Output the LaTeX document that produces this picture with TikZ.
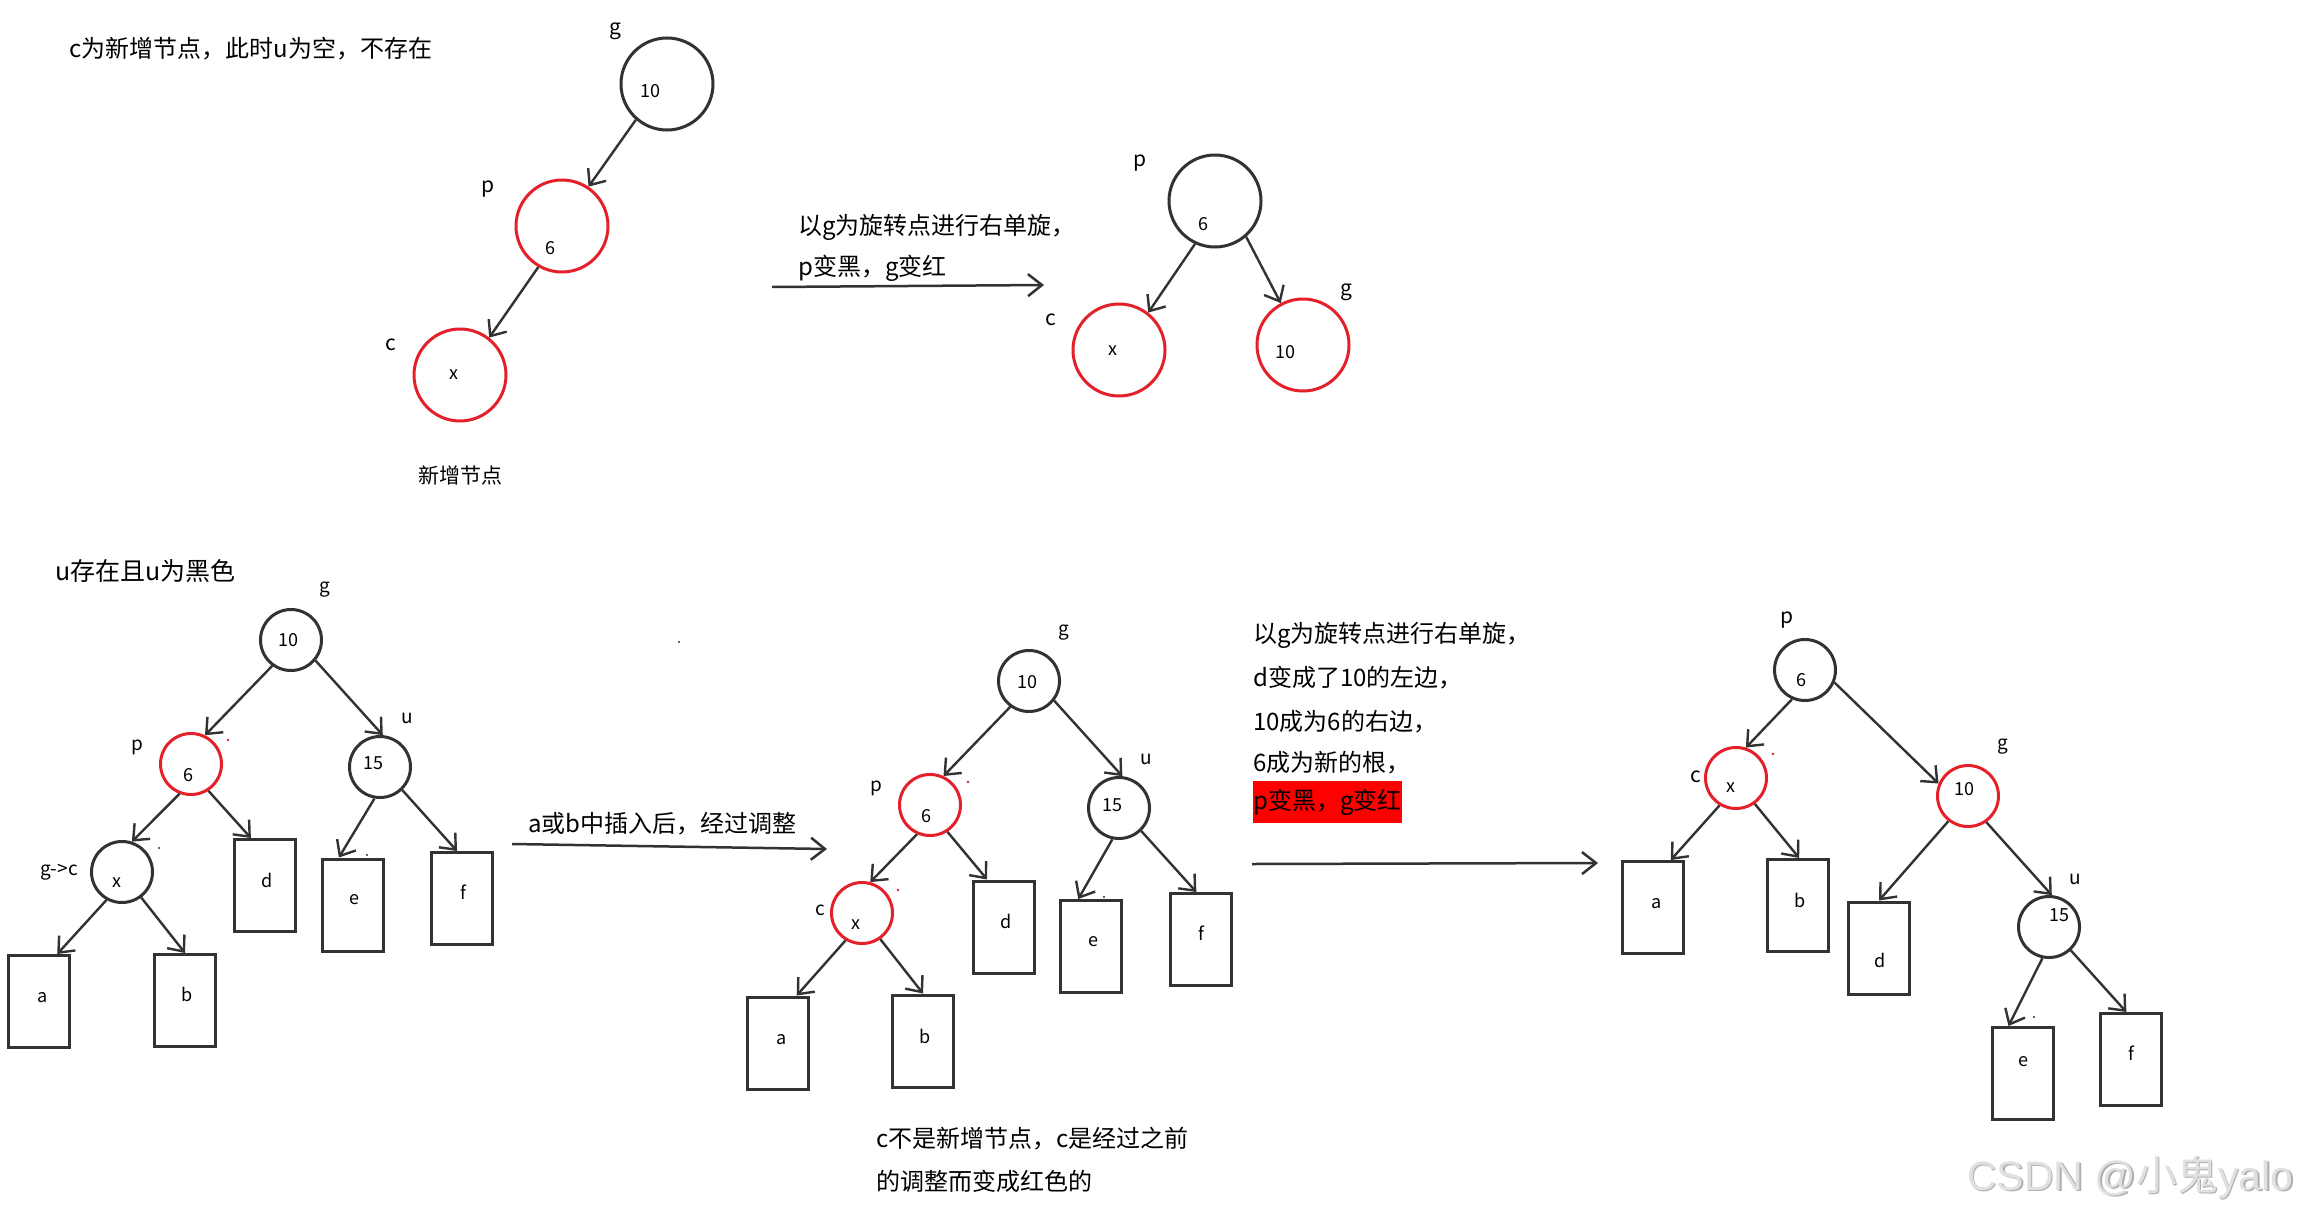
\documentclass[tikz,border=0pt]{standalone}
\usepackage{fontspec}
\setmainfont{Noto Sans CJK SC}
\newfontfamily\wmfont{Liberation Sans}
\usetikzlibrary{arrows.meta}
\definecolor{lc}{RGB}{50,50,50}
\definecolor{rc}{RGB}{228,32,42}
\definecolor{hl}{RGB}{255,0,0}
\definecolor{wm}{RGB}{224,224,224}
\definecolor{wms}{RGB}{175,175,175}
\tikzset{
  bigc/.style={circle,draw=lc,line width=3pt,minimum size=92pt,inner sep=0pt},
  smc/.style={circle,draw=lc,line width=3pt,minimum size=61pt,inner sep=0pt},
  redc/.style={draw=rc},
  leaf/.style={rectangle,draw=lc,line width=3pt,minimum width=61pt,minimum height=92pt,inner sep=0pt},
  arr/.style={draw=lc,line width=2.4pt,-{Straight Barb[length=13pt,width=22pt]}},
  harr/.style={draw=lc,line width=2.5pt,-{Straight Barb[length=14pt,width=22pt]}},
  txt/.style={inner sep=0pt,anchor=west,font=\fontsize{24}{24}\selectfont},
  inn/.style={inner sep=0pt,font=\fontsize{18}{18}\selectfont},
  tlab/.style={inner sep=0pt,font=\fontsize{21}{21}\selectfont},
  blab/.style={inner sep=0pt,font=\fontsize{19}{19}\selectfont},
}
\begin{document}
\begin{tikzpicture}[x=1pt,y=-1pt]
\useasboundingbox[fill=white] (0,0) rectangle (2306,1215);

% ---------------- top left: c is new node ----------------
\node[txt] (title1) at (69,49) {c为新增节点，此时u为空，不存在};
\node[bigc] (g1) at (667,84) {};
\node[bigc,redc] (p1) at (562,226) {};
\node[bigc,redc] (c1) at (460,375) {};
\node[tlab] (g1l) at (615,31) {g};
\node[tlab] (p1l) at (488,189) {p};
\node[tlab] (c1l) at (391,345) {c};
\node[inn] (g1n) at (650,91) {10};
\node[inn] (p1n) at (550,248) {6};
\node[inn] (c1n) at (454,375) {x};
\node[inn,font=\fontsize{21}{21}\selectfont] (new1) at (460,475) {新增节点};
\draw[arr] (g1.-131.8) -- (p1.56.6);
\draw[arr] (p1.-120.6) -- (c1.52.9);

% ---------------- top middle arrow ----------------
\node[txt] (rot1a) at (798,227) {以g为旋转点进行右单旋，};
\node[txt] (rot1b) at (798,268) {p变黑，g变红};
\coordinate (m1s) at (772,287);
\coordinate (m1e) at (1044,285);
\draw[harr] (m1s) -- (m1e);

% ---------------- top right tree ----------------
\node[bigc] (p2) at (1215,201) {};
\node[bigc,redc] (c2) at (1119,350) {};
\node[bigc,redc] (g2) at (1303,345) {};
\node[tlab] (p2l) at (1140,163) {p};
\node[tlab] (c2l) at (1051,320) {c};
\node[tlab] (g2l) at (1346,292) {g};
\node[inn] (p2n) at (1203,224) {6};
\node[inn] (c2n) at (1113,351) {x};
\node[inn] (g2n) at (1285,352) {10};
\draw[arr] (p2.-115.1) -- (c2.52.7);
\draw[arr] (p2.-49.1) -- (g2.118.1);

% ---------------- bottom left tree ----------------
\node[txt,font=\fontsize{25}{25}\selectfont] (title2) at (55,571) {u存在且u为黑色};
\node[smc] (g3) at (291,640) {};
\node[smc,redc] (p3) at (191,764) {};
\node[smc] (u3) at (380,767) {};
\node[smc] (x3) at (122,872) {};
\node[leaf] (a3) at (39,1001.5) {};
\node[leaf] (b3) at (185,1000.5) {};
\node[leaf] (d3) at (264.5,885.5) {};
\node[leaf] (e3) at (352.5,905) {};
\node[leaf] (f3) at (462,898.5) {};
\node[blab] (g3l) at (325,590) {g};
\node[blab] (p3l) at (137,747) {p};
\node[blab] (u3l) at (407,718) {u};
\node[blab] (x3l) at (59,872) {g->c};
\node[inn] (g3n) at (288,640) {10};
\node[inn] (p3n) at (188,775) {6};
\node[inn] (u3n) at (373,763) {15};
\node[inn] (x3n) at (117,883) {x};
\node[inn] (a3n) at (43,998) {a};
\node[inn] (b3n) at (187,994) {b};
\node[inn] (d3n) at (267,880) {d};
\node[inn] (e3n) at (354,900) {e};
\node[inn] (f3n) at (463,892) {f};
\draw[arr] (g3.-126.9) -- (p3.64.1);
\draw[arr] (g3.-40.8) -- (u3.85.6);
\draw[arr] (p3.-111.4) -- (x3.72.6);
\draw[arr] (p3.-57.8) -- (d3.106.6);
\draw[arr] (u3.-100.6) -- (e3.106.6);
\draw[arr] (u3.-46.1) -- (f3.96.3);
\draw[arr] (x3.-119.5) -- (a3.69.1);
\draw[arr] (x3.-53.5) -- (b3.90);
\fill[rc] (228,740) circle (1.3pt);
\fill[lc] (159,848) circle (1.2pt);
\fill[lc] (367,855) circle (1.2pt);

% ---------------- bottom middle ----------------
\fill[lc] (679,642) circle (1.1pt);
\node[txt] (ins) at (528,824) {a或b中插入后，经过调整};
\coordinate (m2s) at (512,844);
\coordinate (m2e) at (827,849);
\draw[harr] (m2s) -- (m2e);

\node[smc] (g4) at (1029,681) {};
\node[smc,redc] (p4) at (930,805) {};
\node[smc] (u4) at (1119,808) {};
\node[smc,redc] (c4) at (862,913) {};
\node[leaf] (a4) at (777.5,1043) {};
\node[leaf] (b4) at (923,1041) {};
\node[leaf] (d4) at (1003.5,927) {};
\node[leaf] (e4) at (1091,946.5) {};
\node[leaf] (f4) at (1200.5,939.5) {};
\node[blab] (g4l) at (1064,633) {g};
\node[blab] (p4l) at (876,788) {p};
\node[blab] (u4l) at (1146,759) {u};
\node[blab] (c4l) at (820,910) {c};
\node[inn] (g4n) at (1027,682) {10};
\node[inn] (p4n) at (926,816) {6};
\node[inn] (u4n) at (1112,805) {15};
\node[inn] (c4n) at (856,925) {x};
\node[inn] (a4n) at (782,1040) {a};
\node[inn] (b4n) at (925,1036) {b};
\node[inn] (d4n) at (1006,921) {d};
\node[inn] (e4n) at (1093,942) {e};
\node[inn] (f4n) at (1201,933) {f};
\draw[arr] (g4.-126.9) -- (p4.65.6);
\draw[arr] (g4.-38.9) -- (u4.84.3);
\draw[arr] (p4.-114.9) -- (c4.75.2);
\draw[arr] (p4.-57.3) -- (d4.109);
\draw[arr] (u4.-102) -- (e4.105.2);
\draw[arr] (u4.-46.1) -- (f4.95.8);
\draw[arr] (c4.-121.5) -- (a4.68.9);
\draw[arr] (c4.-55.8) -- (b4.90);
\fill[rc] (968,782) circle (1.3pt);
\fill[rc] (898,890) circle (1.3pt);
\fill[lc] (1104,897) circle (1.2pt);
\node[txt] (note1) at (876,1139) {c不是新增节点，c是经过之前};
\node[txt] (note2) at (876,1181) {的调整而变成红色的};

% ---------------- bottom right text and arrow ----------------
\node[txt] (r1) at (1253,635) {以g为旋转点进行右单旋，};
\node[txt] (r2) at (1253,678) {d变成了10的左边，};
\node[txt] (r3) at (1253,722) {10成为6的右边，};
\node[txt] (r4) at (1253,763) {6成为新的根，};
\node[txt,fill=hl,minimum height=42pt] (r5) at (1253,802) {p变黑，g变红};
\coordinate (m3s) at (1252,864);
\coordinate (m3e) at (1598,863);
\draw[harr] (m3s) -- (m3e);

% ---------------- bottom right tree ----------------
\node[smc] (p5) at (1805,670) {};
\node[smc,redc] (c5) at (1736,778) {};
\node[smc,redc] (g5) at (1968,796) {};
\node[smc] (u5) at (2049,927) {};
\node[leaf] (a5) at (1652.5,907.5) {};
\node[leaf] (b5) at (1797.5,905.5) {};
\node[leaf] (d5) at (1879,948) {};
\node[leaf] (e5) at (2023,1073.5) {};
\node[leaf] (f5) at (2130.5,1059.5) {};
\node[tlab] (p5l) at (1787,620) {p};
\node[tlab] (c5l) at (1696,777) {c};
\node[blab] (g5l) at (2003,747) {g};
\node[blab] (u5l) at (2075,879) {u};
\node[inn] (p5n) at (1801,680) {6};
\node[inn] (c5n) at (1731,788) {x};
\node[inn] (g5n) at (1964,789) {10};
\node[inn] (u5n) at (2059,915) {15};
\node[inn] (a5n) at (1657,904) {a};
\node[inn] (b5n) at (1800,900) {b};
\node[inn] (d5n) at (1880,960) {d};
\node[inn] (e5n) at (2023,1062) {e};
\node[inn] (f5n) at (2131,1053) {f};
\draw[arr] (p5.-114.9) -- (c5.72.6);
\draw[arr] (p5.-23.8) -- (g5.157.6);
\draw[arr] (c5.-121) -- (a5.69.3);
\draw[arr] (c5.-54.9) -- (b5.88.5);
\draw[arr] (g5.-128) -- (d5.90);
\draw[arr] (g5.-55.4) -- (u5.85.6);
\draw[arr] (u5.-102.3) -- (e5.107.1);
\draw[arr] (u5.-47.2) -- (f5.95.8);
\fill[rc] (1773,754) circle (1.3pt);
\fill[lc] (2034,1017) circle (1.2pt);

% ---------------- watermark ----------------
\node[inner sep=0pt,anchor=west,text=wms,font=\fontsize{41}{41}\selectfont] (wmshadow) at (1968.5,1178.5) {{\wmfont CSDN @}小鬼{\wmfont yalo}};
\node[inner sep=0pt,anchor=west,text=wm,font=\fontsize{41}{41}\selectfont] (wmark) at (1967,1177) {{\wmfont CSDN @}小鬼{\wmfont yalo}};
\end{tikzpicture}
\end{document}
